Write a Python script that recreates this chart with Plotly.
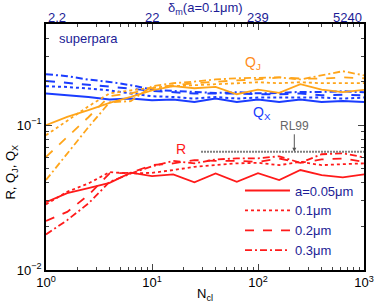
import plotly.graph_objects as go
import numpy as np

# ---- data ----
N = [1, 1.585, 2.512, 3.981, 6.31, 10, 15.85, 25.12, 39.81, 63.1, 100, 158.5, 251.2, 398.1, 631, 1000]

R_005 = [0.0294, 0.034, 0.0368, 0.040, 0.047, 0.0445, 0.0457, 0.0403, 0.0464, 0.0406, 0.0467, 0.0418, 0.049, 0.0452, 0.0436, 0.0457]
R_01 = [0.0284, 0.0347, 0.0396, 0.0474, 0.0464, 0.0469, 0.049, 0.0516, 0.053, 0.0545, 0.055, 0.053, 0.0558, 0.053, 0.0538, 0.0545]
R_02 = [0.0218, 0.0252, 0.0329, 0.0464, 0.047, 0.053, 0.0545, 0.0574, 0.0567, 0.0567, 0.0558, 0.0589, 0.055, 0.058, 0.0589, 0.0558]
R_03 = [0.0176, 0.0221, 0.0288, 0.0406, 0.0464, 0.052, 0.0567, 0.0545, 0.058, 0.059, 0.059, 0.061, 0.055, 0.063, 0.064, 0.060]

QX_005 = [0.1656, 0.161, 0.1567, 0.1504, 0.1528, 0.1487, 0.1504, 0.1448, 0.1528, 0.1448, 0.1504, 0.1448, 0.1504, 0.1448, 0.147, 0.1448]
QX_01 = [0.186, 0.1837, 0.179, 0.174, 0.1656, 0.1585, 0.1567, 0.1528, 0.1567, 0.1528, 0.1552, 0.1552, 0.1567, 0.1552, 0.1528, 0.1552]
QX_02 = [0.202, 0.196, 0.192, 0.186, 0.179, 0.1724, 0.1698, 0.1656, 0.1656, 0.1656, 0.1636, 0.1636, 0.1656, 0.161, 0.1625, 0.161]
QX_03 = [0.225, 0.218, 0.2066, 0.199, 0.189, 0.176, 0.1724, 0.169, 0.167, 0.169, 0.166, 0.167, 0.1698, 0.1698, 0.1715, 0.169]

QJ_005 = [0.1, 0.114, 0.127, 0.1425, 0.1567, 0.174, 0.186, 0.18, 0.184, 0.1636, 0.176, 0.1675, 0.192, 0.176, 0.169, 0.1757]
QJ_01 = [0.0853, 0.1066, 0.135, 0.166, 0.174, 0.182, 0.186, 0.189, 0.192, 0.193, 0.198, 0.195, 0.198, 0.195, 0.196, 0.195]
QJ_02 = [0.0604, 0.0827, 0.1135, 0.159, 0.166, 0.18, 0.189, 0.195, 0.2, 0.204, 0.207, 0.214, 0.21, 0.21, 0.214, 0.211]
QJ_03 = [0.0418, 0.0641, 0.0969, 0.144, 0.1466, 0.186, 0.195, 0.2, 0.207, 0.211, 0.213, 0.214, 0.207, 0.221, 0.236, 0.221]

legend_labels = ["a=0.05\u03bcm", "0.1\u03bcm", "0.2\u03bcm", "0.3\u03bcm"]

RL99_value = 0.0655
RL99_N = [29, 1000]
RL99_arrow_N = 220

bottom_tickvals = [1, 10, 100, 1000]
bottom_ticktext = ["10<sup>0</sup>", "10<sup>1</sup>", "10<sup>2</sup>", "10<sup>3</sup>"]
top_ticktext = ["2.2", "22", "239", "5240"]
y_tickvals = [0.01, 0.1]
y_ticktext = ["10<sup>\u22122</sup>", "10<sup>\u22121</sup>"]

x_minor = [m * d for d in (1, 10, 100) for m in range(2, 10)]
y_minor = [m * d for d in (0.01, 0.1) for m in range(2, 10) if m * d < 0.5]

# ---- styles ----
RED = "#ff1a1a"
BLUE = "#1a3cff"
ORANGE = "#ffa51a"
NAVY = "#1c1c96"
dashes = ["solid", "dot", "dash", "7px,3px,2px,3px"]
FONT = "Liberation Sans, Arial, sans-serif"

fig = go.Figure()

for vals, d in zip([QX_005, QX_01, QX_02, QX_03], dashes):
    fig.add_trace(go.Scatter(x=N, y=vals, mode="lines", line=dict(color=BLUE, width=2, dash=d), showlegend=False))
for vals, d in zip([QJ_005, QJ_01, QJ_02, QJ_03], dashes):
    fig.add_trace(go.Scatter(x=N, y=vals, mode="lines", line=dict(color=ORANGE, width=1.8, dash=d), showlegend=False))
for vals, d, lab in zip([R_005, R_01, R_02, R_03], dashes, legend_labels):
    fig.add_trace(go.Scatter(x=N, y=vals, mode="lines", name=lab, line=dict(color=RED, width=1.8, dash=d), showlegend=True))

# RL99 reference line
fig.add_trace(go.Scatter(x=RL99_N, y=[RL99_value, RL99_value], mode="lines",
                         line=dict(color="#808080", width=2, dash="2px,1px"), showlegend=False))

# dummy trace for top axis
fig.add_trace(go.Scatter(x=[1, 1000], y=[0.1, 0.1], mode="lines", line=dict(width=0), opacity=0,
                         showlegend=False, xaxis="x2", yaxis="y", hoverinfo="skip"))

axis_common = dict(ticks="inside", ticklen=6, tickwidth=1.2, showline=True, linecolor="black",
                   linewidth=1.5, showgrid=False, zeroline=False, automargin=False)

fig.update_layout(
    width=374, height=302,
    margin=dict(l=46, r=10, t=24, b=32, autoexpand=False),
    paper_bgcolor="white", plot_bgcolor="white",
    font=dict(family=FONT, size=13, color="black"),
    xaxis=dict(type="log", range=[0, 3], tickvals=bottom_tickvals, ticktext=bottom_ticktext,
               mirror=False, ticklabelstandoff=0,
               minor=dict(tickvals=x_minor, ticks="inside", ticklen=3, tickwidth=1, showgrid=False),
               **axis_common),
    xaxis2=dict(type="log", range=[0, 3], overlaying="x", side="top", anchor="y",
                tickvals=bottom_tickvals, showticklabels=False,
                minor=dict(tickvals=x_minor, ticks="inside", ticklen=3, tickwidth=1, showgrid=False),
                **axis_common),
    yaxis=dict(type="log", range=[-2, np.log10(0.5)], tickvals=y_tickvals, ticktext=y_ticktext,
               mirror="ticks",
               minor=dict(tickvals=y_minor, ticks="inside", ticklen=3, tickwidth=1, showgrid=False),
               **axis_common),
    legend=dict(x=0.61, y=0.384, xanchor="left", yanchor="top", bgcolor="rgba(0,0,0,0)",
                font=dict(color=NAVY, size=13), tracegroupgap=0, itemwidth=45),
    showlegend=True,
)

# top axis tick labels (edge labels kept inside the frame as in the reference)
anchors = ["left", "center", "center", "right"]
for v, t, a in zip(bottom_tickvals, top_ticktext, anchors):
    fig.add_annotation(x=np.log10(v), y=1.028, xref="x", yref="paper", text=t, showarrow=False,
                       xanchor=a, yanchor="middle", font=dict(color=NAVY, size=13))

# axis titles
fig.add_annotation(x=0.5, y=1.062, xref="paper", yref="paper", text="\u03b4<sub>m</sub>(a=0.1\u03bcm)",
                   showarrow=False, xanchor="center", yanchor="middle", font=dict(color=NAVY, size=13))
fig.add_annotation(x=0.5, y=-0.1, xref="paper", yref="paper", text="N<sub>cl</sub>",
                   showarrow=False, xanchor="center", yanchor="middle", font=dict(size=13))
fig.add_annotation(x=-0.107, y=0.40, xref="paper", yref="paper", text="R, Q<sub>J</sub>, Q<sub>X</sub>",
                   showarrow=False, textangle=-90, xanchor="center", yanchor="middle", font=dict(size=13))

# labels
fig.add_annotation(x=np.log10(90), y=np.log10(0.268), text="Q<sub>J</sub>", showarrow=False,
                   font=dict(color="#ff8c1a", size=14), xref="x", yref="y")
fig.add_annotation(x=np.log10(110), y=np.log10(0.121), text="Q<sub>X</sub>", showarrow=False,
                   font=dict(color=BLUE, size=14), xref="x", yref="y")
fig.add_annotation(x=np.log10(18.8), y=np.log10(0.0685), text="R", showarrow=False,
                   font=dict(color=RED, size=14), xref="x", yref="y")
fig.add_annotation(x=np.log10(RL99_arrow_N), y=np.log10(RL99_value), text="RL99", showarrow=True,
                   arrowhead=2, arrowsize=0.8, arrowwidth=1, arrowcolor="#555555", ax=0, ay=-26,
                   font=dict(color="#666666", size=12), xref="x", yref="y")
fig.add_annotation(x=0.035, y=0.943, xref="paper", yref="paper", text="superpara", showarrow=False,
                   xanchor="left", yanchor="middle", font=dict(color=NAVY, size=13))

fig.write_html("out.html", config={"displayModeBar": False},
               post_script="document.body.style.margin='0';")
